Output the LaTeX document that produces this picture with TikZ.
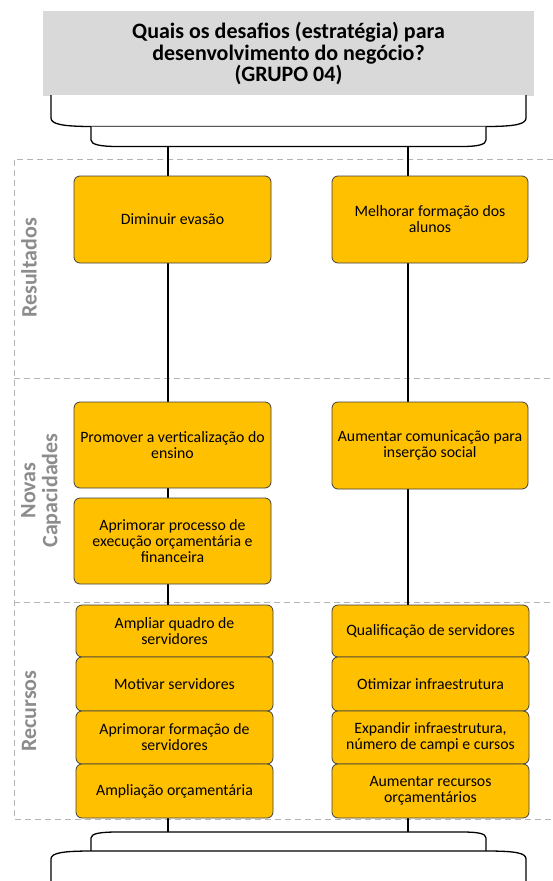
\documentclass[tikz,border=0pt]{standalone}
\usepackage{fontspec}
\setmainfont{Carlito}
\definecolor{goalfill}{RGB}{255,192,0}
\definecolor{goalline}{RGB}{64,64,64}
\definecolor{headfill}{RGB}{217,217,217}
\definecolor{bandline}{RGB}{180,180,180}
\definecolor{bandtext}{RGB}{140,140,140}
\begin{document}
\begin{tikzpicture}[x=1pt,y=-1pt,
  goal/.style={draw=goalline, fill=goalfill, rounded corners=6pt, line width=0.8pt,
    align=center, inner sep=0pt, font=\fontsize{15.8}{16}\selectfont},
  leftcol/.style={goal, minimum width=197pt},
  rightcol/.style={goal, minimum width=196pt},
  header/.style={fill=headfill, minimum width=491pt, minimum height=85pt, inner sep=0pt,
    align=center, font=\fontsize{22}{21.5}\selectfont\bfseries},
  bandlabel/.style={rotate=90, text=bandtext, align=center, inner sep=0pt,
    font=\fontsize{22}{22}\selectfont\bfseries},
  band/.style={draw=bandline, line width=0.9pt, dash pattern=on 6pt off 4pt},
  bracket/.style={draw=black, fill=white, line width=1.3pt},
  link/.style={draw=black, line width=1.3pt}
]
\useasboundingbox (0,0) rectangle (553,881);

% swim-lane bands
\draw[band] (553,159) -- (14,159) -- (14,819) -- (553,819);
\draw[band] (14,378) -- (553,378);
\draw[band] (14,602) -- (553,602);

\node[bandlabel] (lres) at (29,268) {Resultados};
\node[bandlabel] (lcap) at (41,490.5) {Novas\\Capacidades};
\node[bandlabel] (lrec) at (29,711) {Recursos};

% header
\node[header] (head) at (288.5,53.5) {Quais os desafios (estratégia) para\\desenvolvimento do negócio?\\(GRUPO 04)};

% brackets below the header
\draw[bracket] (51,95) -- (51,118) .. controls (51,124) and (62,126.5) .. (92,126.5)
  -- (486,126.5) .. controls (516,126.5) and (526,124) .. (526,118) -- (526,95);
\draw[bracket] (91,126.5) -- (91,140) .. controls (91,144.5) and (100,146.5) .. (118,146.5)
  -- (462,146.5) .. controls (478,146.5) and (486,144.5) .. (486,140) -- (486,126.5);

% brackets at the foot
\draw[bracket] (91,851) -- (91,838) .. controls (91,833.5) and (100,832) .. (118,832)
  -- (462,832) .. controls (478,832) and (486,833.5) .. (486,838) -- (486,851);
\draw[bracket] (51,882) -- (51,859) .. controls (51,853) and (62,851) .. (92,851)
  -- (486,851) .. controls (516,851) and (526,853) .. (526,859) -- (526,882);

% vertical spines
\coordinate (ltop) at (168,146.5);
\coordinate (lbot) at (168,832);
\coordinate (rtop) at (408,146.5);
\coordinate (rbot) at (408,832);
\draw[link] (ltop) -- (lbot);
\draw[link] (rtop) -- (rbot);

% Resultados
\node[leftcol, minimum height=87pt] (res1) at (172.5,219.5) {Diminuir evasão};
\node[rightcol, minimum height=87pt] (res2) at (430,219.5) {Melhorar formação dos\\alunos};

% Novas Capacidades
\node[leftcol, minimum height=86pt] (cap1) at (172.5,445) {Promover a verticalização do\\ensino};
\node[leftcol, minimum height=86pt] (cap2) at (172.5,541) {Aprimorar processo de\\execução orçamentária e\\financeira};
\node[rightcol, minimum height=87pt] (cap3) at (430,445.5) {Aumentar comunicação para\\inserção social};

% Recursos
\node[leftcol, minimum height=52pt] (rec1) at (174.5,631) {Ampliar quadro de\\servidores};
\node[leftcol, minimum height=54pt] (rec2) at (174.5,684) {Motivar servidores};
\node[leftcol, minimum height=53pt] (rec3) at (174.5,737.5) {Aprimorar formação de\\servidores};
\node[leftcol, minimum height=54pt] (rec4) at (174.5,791) {Ampliação orçamentária};
\node[leftcol, minimum height=52pt] (rec5) at (430.5,631) {Qualificação de servidores};
\node[leftcol, minimum height=54pt] (rec6) at (430.5,684) {Otimizar infraestrutura};
\node[leftcol, minimum height=53pt] (rec7) at (430.5,737.5) {Expandir infraestrutura,\\número de campi e cursos};
\node[leftcol, minimum height=54pt] (rec8) at (430.5,791) {Aumentar recursos\\orçamentários};
\end{tikzpicture}
\end{document}
